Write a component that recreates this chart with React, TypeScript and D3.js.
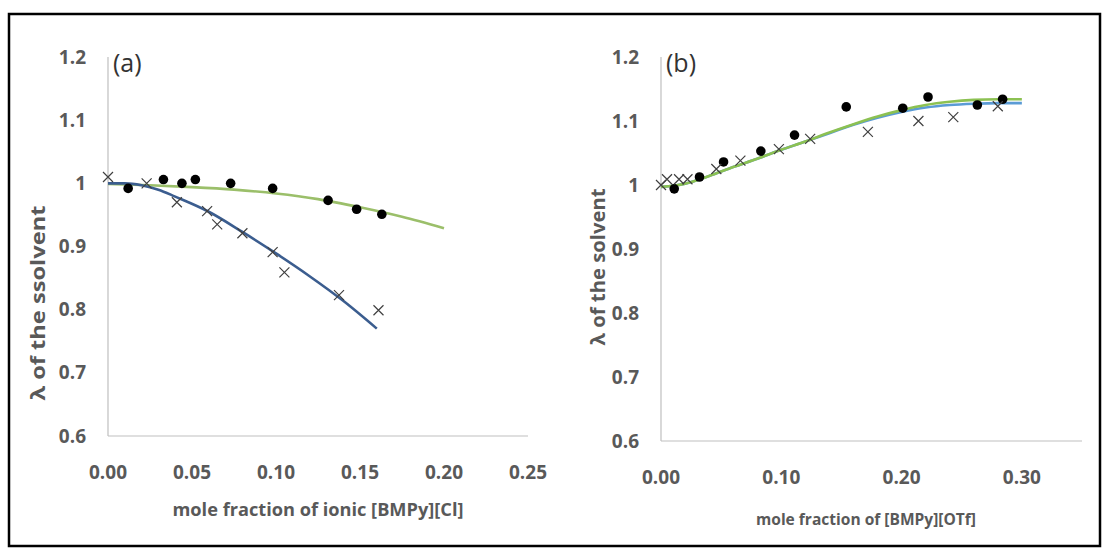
import React, { useEffect, useRef } from "react";
import * as d3 from "d3";

// panel (a): [BMPy][Cl]
const aDotsX = [0.012, 0.033, 0.044, 0.052, 0.073, 0.098, 0.131, 0.148, 0.163];
const aDotsY = [0.992, 1.006, 1.0, 1.006, 1.0, 0.992, 0.973, 0.959, 0.951];
const aCrossX = [0.0, 0.023, 0.041, 0.059, 0.065, 0.08, 0.098, 0.105, 0.1375, 0.161];
const aCrossY = [1.01, 1.0, 0.97, 0.956, 0.935, 0.921, 0.891, 0.859, 0.823, 0.799];
const aGreenX = [0, 0.025, 0.05, 0.075, 0.1, 0.125, 0.15, 0.175, 0.2];
const aGreenY = [0.999, 0.997, 0.994, 0.99, 0.984, 0.975, 0.962, 0.947, 0.929];
const aBlueX = [0, 0.01, 0.02, 0.03, 0.04, 0.06, 0.08, 0.1, 0.12, 0.14, 0.16];
const aBlueY = [1.0, 1.0, 0.997, 0.99, 0.979, 0.955, 0.923, 0.889, 0.853, 0.814, 0.77];

// panel (b): [BMPy][OTf]
const bDotsX = [0.011, 0.032, 0.052, 0.083, 0.111, 0.154, 0.201, 0.222, 0.263, 0.284];
const bDotsY = [0.994, 1.0125, 1.036, 1.053, 1.078, 1.122, 1.12, 1.1375, 1.125, 1.134];
const bCrossX = [0.0, 0.005, 0.015, 0.022, 0.046, 0.066, 0.098, 0.124, 0.172, 0.214, 0.243, 0.28];
const bCrossY = [1.0, 1.009, 1.009, 1.009, 1.025, 1.038, 1.056, 1.072, 1.083, 1.1, 1.106, 1.123];
const bLineX = [0, 0.02, 0.04, 0.06, 0.08, 0.1, 0.12, 0.14, 0.16, 0.18, 0.2, 0.22, 0.24, 0.26, 0.28, 0.3];
const bGreenY = [0.997, 1.002, 1.014, 1.028, 1.041, 1.055, 1.068, 1.082, 1.095, 1.107, 1.117, 1.125, 1.13, 1.133, 1.134, 1.134];
const bBlueY = [0.997, 1.002, 1.014, 1.028, 1.041, 1.055, 1.068, 1.081, 1.094, 1.105, 1.114, 1.121, 1.125, 1.127, 1.128, 1.128];

const yTicks = [0.6, 0.7, 0.8, 0.9, 1.0, 1.1, 1.2];
const aXTicks = [0, 0.05, 0.1, 0.15, 0.2, 0.25];
const bXTicks = [0, 0.1, 0.2, 0.3];

const FONT = "'Open Sans', 'DejaVu Sans', sans-serif";
const GREY = "#595959";

const zip = (xs: number[], ys: number[]) => xs.map((x, i) => [x, ys[i]] as [number, number]);

function drawPanel(svg: any, p: any) {
  const x = d3.scaleLinear().domain(p.xDomain).range(p.xRange);
  const y = d3.scaleLinear().domain([0.6, 1.2]).range(p.yRange);
  const g = svg.append("g");

  // axis lines
  g.append("line")
    .attr("x1", x(0)).attr("x2", x(0))
    .attr("y1", y(1.2)).attr("y2", y(0.6))
    .attr("stroke", "#bfbfbf").attr("stroke-width", 1.2);
  g.append("line")
    .attr("x1", x(0)).attr("x2", x(p.xDomain[1]))
    .attr("y1", y(0.6)).attr("y2", y(0.6))
    .attr("stroke", "#bfbfbf").attr("stroke-width", 1.2);

  g.selectAll(".yt")
    .data(yTicks)
    .enter()
    .append("text")
    .attr("x", x(0) - 22)
    .attr("y", (d: number) => y(d))
    .attr("dy", "0.35em")
    .attr("text-anchor", "end")
    .attr("fill", GREY)
    .style("font", `bold 19px ${FONT}`)
    .text((d: number) => (d === 1 ? "1" : d3.format(".1f")(d)));

  g.selectAll(".xt")
    .data(p.xTicks)
    .enter()
    .append("text")
    .attr("x", (d: number) => x(d))
    .attr("y", p.xLabelY)
    .attr("dy", "0.35em")
    .attr("text-anchor", "middle")
    .attr("fill", GREY)
    .style("font", `bold 19px ${FONT}`)
    .text((d: number) => d3.format(".2f")(d));

  // titles
  g.append("text")
    .attr("x", p.xTitle[0]).attr("y", p.xTitle[1])
    .attr("dy", "0.35em")
    .attr("text-anchor", "middle")
    .attr("fill", GREY)
    .attr("textLength", p.xTitleLen)
    .attr("lengthAdjust", "spacingAndGlyphs")
    .style("font", `bold ${p.xTitleSize}px ${FONT}`)
    .text(p.xLabel);
  g.append("text")
    .attr("transform", `translate(${p.yTitle[0]},${p.yTitle[1]}) rotate(-90)`)
    .attr("dy", "0.35em")
    .attr("text-anchor", "middle")
    .attr("fill", GREY)
    .attr("textLength", p.yTitleLen)
    .attr("lengthAdjust", "spacingAndGlyphs")
    .style("font", `bold ${p.yTitleSize}px ${FONT}`)
    .text(p.yLabel);
  g.append("text")
    .attr("x", x(0) + 5).attr("y", y(1.2) + 6)
    .attr("dy", "0.35em")
    .attr("fill", "#333")
    .style("font", `25px ${FONT}`)
    .text(p.tag);

  const line = d3
    .line()
    .x((d: any) => x(d[0]))
    .y((d: any) => y(d[1]))
    .curve(d3.curveMonotoneX);

  p.lines.forEach((l: any) => {
    g.append("path")
      .datum(l.pts)
      .attr("fill", "none")
      .attr("stroke", l.color)
      .attr("stroke-width", 2.6)
      .attr("d", line);
  });

  g.selectAll(".dot")
    .data(p.dots)
    .enter()
    .append("circle")
    .attr("cx", (d: any) => x(d[0]))
    .attr("cy", (d: any) => y(d[1]))
    .attr("r", 4.8)
    .attr("fill", "#000");

  const s = 5;
  p.crosses.forEach((d: any) => {
    const cx = x(d[0]);
    const cy = y(d[1]);
    g.append("path")
      .attr("d", `M${cx - s},${cy - s}L${cx + s},${cy + s}M${cx - s},${cy + s}L${cx + s},${cy - s}`)
      .attr("stroke", "#404040")
      .attr("stroke-width", 1.2)
      .attr("fill", "none");
  });
}

export default function App() {
  const ref = useRef<SVGSVGElement>(null);

  useEffect(() => {
    const svg = d3.select(ref.current);
    svg.selectAll("*").remove();

    svg.append("rect")
      .attr("x", 0).attr("y", 0).attr("width", 1108).attr("height", 553)
      .attr("fill", "#fff");
    svg.append("rect")
      .attr("x", 9).attr("y", 14).attr("width", 1091).attr("height", 532)
      .attr("fill", "none")
      .attr("stroke", "#000")
      .attr("stroke-width", 2.5);

    drawPanel(svg, {
      xDomain: [0, 0.25],
      xRange: [108, 528],
      yRange: [436, 57],
      xTicks: aXTicks,
      xLabelY: 472,
      xTitle: [318, 510],
      xTitleSize: 18,
      xTitleLen: 291,
      xLabel: "mole fraction of ionic [BMPy][Cl]",
      yTitle: [38, 303],
      yTitleSize: 20,
      yTitleLen: 195,
      yLabel: "λ of the ssolvent",
      tag: "(a)",
      lines: [
        { pts: zip(aGreenX, aGreenY), color: "#9bbf6a" },
        { pts: zip(aBlueX, aBlueY), color: "#3b5d8f" },
      ],
      dots: zip(aDotsX, aDotsY),
      crosses: zip(aCrossX, aCrossY),
    });

    drawPanel(svg, {
      xDomain: [0, 0.35],
      xRange: [661, 1082],
      yRange: [441, 57],
      xTicks: bXTicks,
      xLabelY: 477,
      xTitle: [866, 520],
      xTitleSize: 15.5,
      xTitleLen: 220,
      xLabel: "mole fraction of [BMPy][OTf]",
      yTitle: [598, 267],
      yTitleSize: 19,
      yTitleLen: 157,
      yLabel: "λ of the solvent",
      tag: "(b)",
      lines: [
        { pts: zip(bLineX, bBlueY), color: "#5b9bd5" },
        { pts: zip(bLineX, bGreenY), color: "#8cc152" },
      ],
      dots: zip(bDotsX, bDotsY),
      crosses: zip(bCrossX, bCrossY),
    });
  }, []);

  return (
    <div>
      <style>{`body{margin:0}`}</style>
      <svg ref={ref} width={1108} height={553} style={{ display: "block" }} />
    </div>
  );
}
